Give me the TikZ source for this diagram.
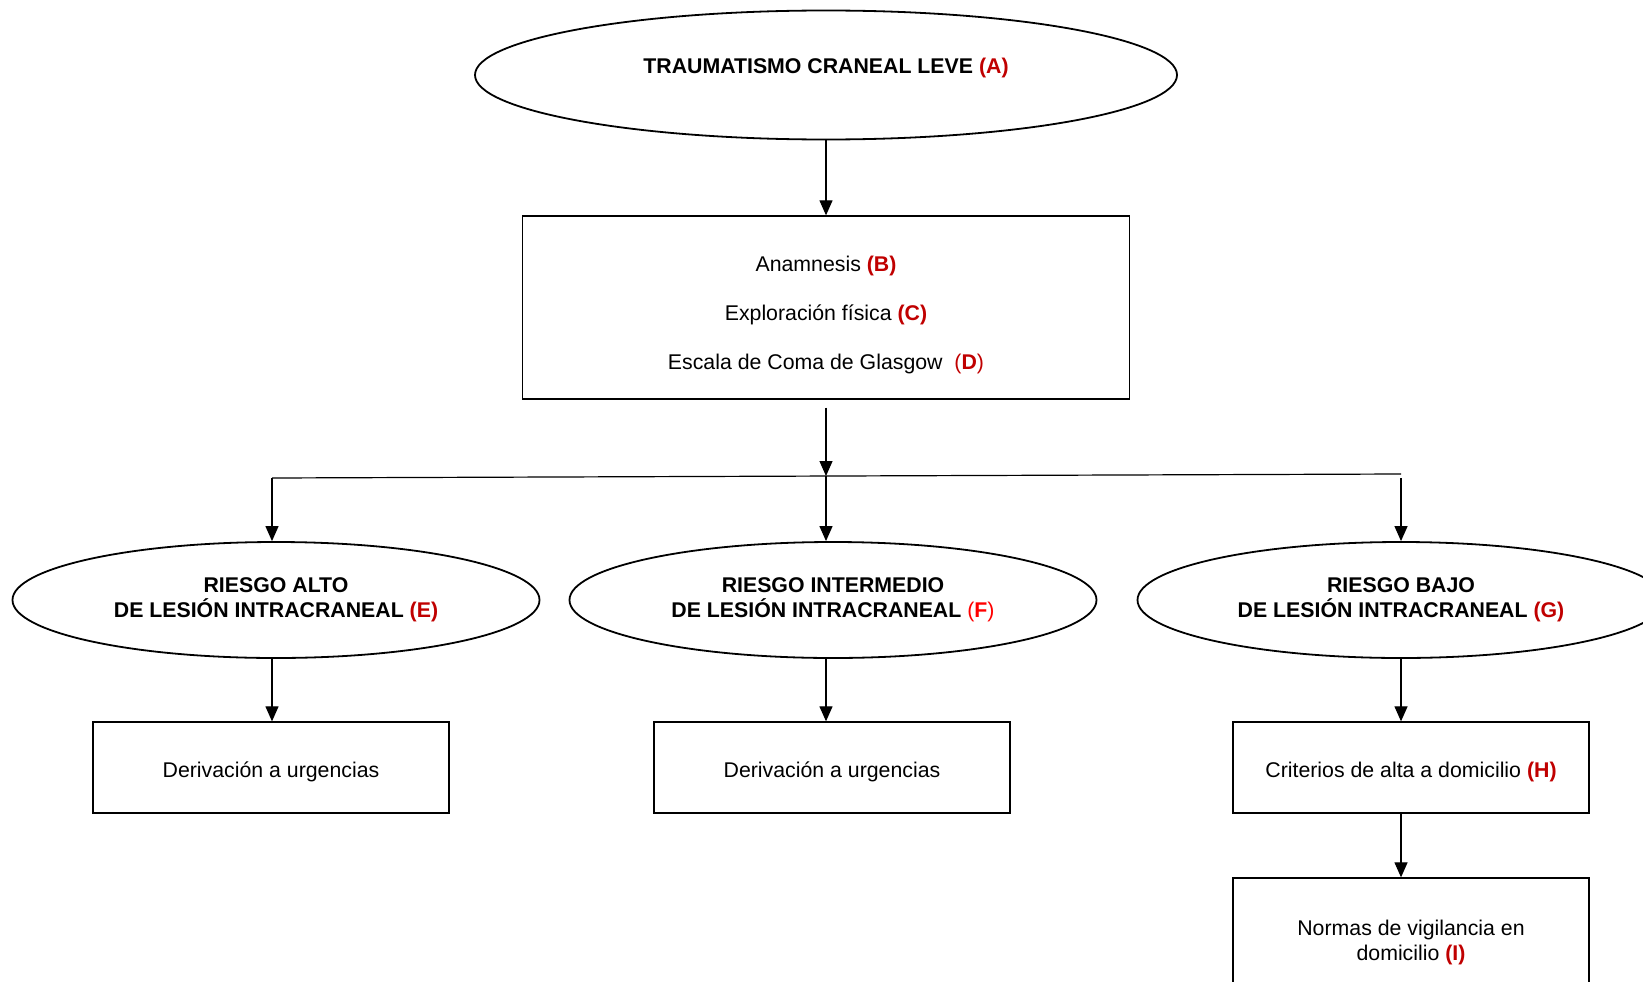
\documentclass[tikz,border=0pt]{standalone}
\usepackage{fontspec}
\setmainfont{Liberation Sans}
\usepackage{xcolor}
\usetikzlibrary{shapes.geometric}
\usetikzlibrary{arrows.meta}

\definecolor{labred}{HTML}{C00000}
\definecolor{labbright}{HTML}{FF0000}
\newcommand{\lbl}[1]{\textcolor{labred}{\textbf{(#1)}}}

\begin{document}
\begin{tikzpicture}[x=1pt, y=-1pt,
        txt/.style={font=\fontsize{21.3}{25}\selectfont, align=center},
        oval/.style={txt, ellipse, draw, line width=1.8pt, inner sep=0pt, font=\fontsize{21.3}{25}\selectfont\bfseries, minimum width=527pt, minimum height=116pt},
        box/.style={txt, rectangle, draw, line width=1.3pt, minimum width=356pt, minimum height=91pt},
        arr/.style={line width=1.2pt, -{Triangle[length=15pt, width=13pt]}}]
        \useasboundingbox (0,0) rectangle (1643,982);

        % Nodes
        \node[oval, minimum width=702pt, minimum height=129pt, text height=16pt, text depth=19pt] (A) at (826, 75) {TRAUMATISMO CRANEAL LEVE \textcolor{labred}{(A)}};
        \node[box, minimum width=607pt, minimum height=183pt] (BCD) at (826, 307.5) {\rule{0pt}{31pt}Anamnesis \lbl{B}\\[24pt] Exploración física \lbl{C}\\[24pt] Escala de Coma de Glasgow\ \ \textcolor{labred}{(\textbf{D})}};
        \node[oval] (E) at (276, 600) {RIESGO ALTO\\DE LESIÓN INTRACRANEAL \textcolor{labred}{(E)}};
        \node[oval] (F) at (833, 600) {RIESGO INTERMEDIO\\DE LESIÓN INTRACRANEAL \textcolor{labbright}{\mdseries(\textbf{F})}};
        \node[oval] (G) at (1401, 600) {RIESGO BAJO\\DE LESIÓN INTRACRANEAL \textcolor{labred}{(G)}};
        \node[box] (dE) at (271, 767.5) {\rule{0pt}{25pt}Derivación a urgencias};
        \node[box] (dF) at (832, 767.5) {\rule{0pt}{25pt}Derivación a urgencias};
        \node[box] (H) at (1411, 767.5) {\rule{0pt}{25pt}Criterios de alta a domicilio \lbl{H}};
        \node[box, minimum height=119pt] (I) at (1411, 937.5) {\rule{0pt}{25pt}Normas de vigilancia en\\domicilio \lbl{I}};

        \coordinate (forkL) at (272, 478);
        \coordinate (forkM) at (826, 476);
        \coordinate (forkR) at (1401, 474);

        % Edges
        \draw[arr] (A) -- (BCD);
        \draw[arr, shorten <=8pt] (BCD) -- (forkM);
        \draw[line width=1.2pt] (forkL) -- (forkR);
        \draw[arr] (forkL) -- (forkL |- E.north);
        \draw[arr] (forkM) -- (forkM |- F.north);
        \draw[arr, shorten <=4pt] (forkR) -- (G);
        \draw[arr] (forkL |- E.south) -- (forkL |- dE.north);
        \draw[arr] (forkM |- F.south) -- (forkM |- dF.north);
        \draw[arr] (G) -- (G |- H.north);
        \draw[arr] (G |- H.south) -- (G |- I.north);
    \end{tikzpicture}
\end{document}
